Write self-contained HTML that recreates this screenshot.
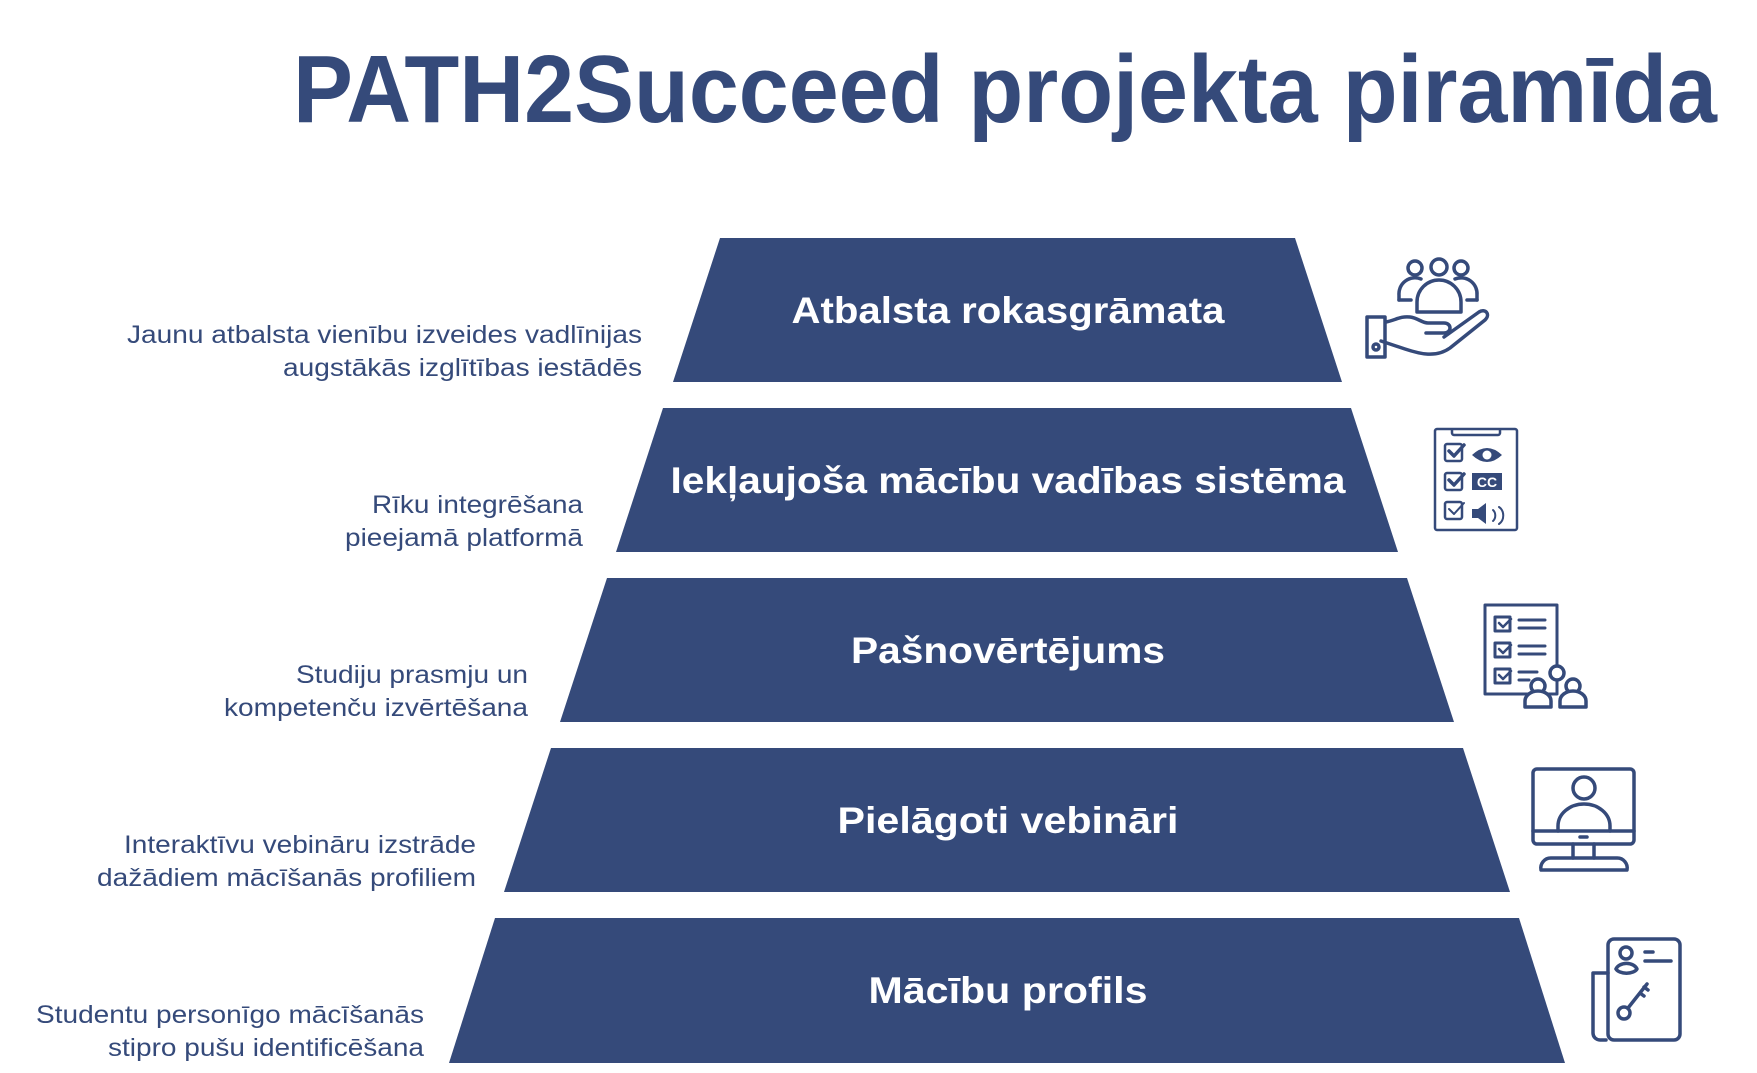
<!DOCTYPE html>
<html><head><meta charset="utf-8"><style>html,body{margin:0;padding:0;background:#fff;}svg{display:block}</style></head>
<body>
<svg width="1757" height="1073" viewBox="0 0 1757 1073" xmlns="http://www.w3.org/2000/svg">
<rect width="1757" height="1073" fill="#fff"/>
<text x="293" y="122" font-family="Liberation Sans, sans-serif" font-weight="bold" font-size="96" fill="#354a7a" textLength="1424" lengthAdjust="spacingAndGlyphs">PATH2Succeed projekta piramīda</text>
<g fill="#354a7a">
<polygon points="720,238 1295,238 1342,382 673,382"/>
<polygon points="663,408 1351,408 1398,552 616,552"/>
<polygon points="607,578 1407,578 1454,722 560,722"/>
<polygon points="551,748 1463,748 1510,892 504,892"/>
<polygon points="495,918 1519,918 1565,1063 449,1063"/>
</g>
<g font-family="Liberation Sans, sans-serif" font-weight="bold" font-size="37" fill="#fff" text-anchor="middle">
<text x="1008" y="323" textLength="433" lengthAdjust="spacingAndGlyphs">Atbalsta rokasgrāmata</text>
<text x="1008" y="493" textLength="675" lengthAdjust="spacingAndGlyphs">Iekļaujoša mācību vadības sistēma</text>
<text x="1008" y="663" textLength="314" lengthAdjust="spacingAndGlyphs">Pašnovērtējums</text>
<text x="1008" y="833" textLength="341" lengthAdjust="spacingAndGlyphs">Pielāgoti vebināri</text>
<text x="1008" y="1003" textLength="279" lengthAdjust="spacingAndGlyphs">Mācību profils</text>
</g>
<g font-family="Liberation Sans, sans-serif" font-size="25" fill="#354a7a" text-anchor="end">
<text x="642" y="343" textLength="515" lengthAdjust="spacingAndGlyphs">Jaunu atbalsta vienību izveides vadlīnijas</text>
<text x="642" y="376" textLength="359" lengthAdjust="spacingAndGlyphs">augstākās izglītības iestādēs</text>
<text x="583" y="513" textLength="211" lengthAdjust="spacingAndGlyphs">Rīku integrēšana</text>
<text x="583" y="546" textLength="238" lengthAdjust="spacingAndGlyphs">pieejamā platformā</text>
<text x="528" y="683" textLength="232" lengthAdjust="spacingAndGlyphs">Studiju prasmju un</text>
<text x="528" y="716" textLength="304" lengthAdjust="spacingAndGlyphs">kompetenču izvērtēšana</text>
<text x="476" y="853" textLength="352" lengthAdjust="spacingAndGlyphs">Interaktīvu vebināru izstrāde</text>
<text x="476" y="886" textLength="379" lengthAdjust="spacingAndGlyphs">dažādiem mācīšanās profiliem</text>
<text x="424" y="1023" textLength="388" lengthAdjust="spacingAndGlyphs">Studentu personīgo mācīšanās</text>
<text x="424" y="1056" textLength="316" lengthAdjust="spacingAndGlyphs">stipro pušu identificēšana</text>
</g>
<g fill="none" stroke="#354a7a" stroke-width="3.5" stroke-linecap="round" stroke-linejoin="round">
<circle cx="1415" cy="268" r="7"/><circle cx="1439" cy="267" r="8"/><circle cx="1461" cy="268" r="7"/>
<path d="M1399,300 v-5 a16,16 0 0 1 22,-16"/><path d="M1477,300 v-5 a16,16 0 0 0 -22,-16"/>
<path d="M1399,300 h12"/><path d="M1467,300 h10"/>
<path d="M1417,312 v-10 a22,22 0 0 1 44,0 v10 z"/>
<rect x="1367" y="317" width="18" height="40"/><circle cx="1376" cy="347" r="3"/>
<path d="M1386,322 c10,-2 14,-6 24,-5 c8,1 12,6 18,6 h16 c8,0 8,10 0,10 h-18 M1444,337 l35,-25 c6,-4 12,2 6,8 l-35,28 c-14,10 -30,6 -45,1 l-24,-8"/>
<rect x="1435" y="429" width="82" height="101" rx="2" stroke-width="2.5"/>
<path d="M1452,430 v3 a2,2 0 0 0 2,2 h44 a2,2 0 0 0 2,-2 v-3" stroke-width="2.5"/>
<rect x="1445" y="444" width="17" height="17" rx="2" stroke-width="2.5"/>
<rect x="1445" y="473" width="17" height="17" rx="2" stroke-width="2.5"/>
<rect x="1445" y="502" width="17" height="17" rx="2" stroke-width="2.5"/>
<path d="M1449,451 l5,5 l10,-11"/><path d="M1449,480 l5,5 l10,-11"/><path d="M1449,509 l5,5 l10,-11" stroke-width="2"/>
<path d="M1493,510 a6,7 0 0 1 0,11" stroke-width="2"/><path d="M1499,507 a9,10 0 0 1 0,17" stroke-width="2"/>
<rect x="1485" y="605" width="72" height="89" stroke-width="3"/>
<rect x="1495" y="617" width="15" height="14" stroke-width="3"/><rect x="1495" y="643" width="15" height="14" stroke-width="3"/><rect x="1495" y="669" width="15" height="14" stroke-width="3"/>
<path d="M1499,623 l4,4 l8,-8 M1499,649 l4,4 l8,-8 M1499,675 l4,4 l8,-8" stroke-width="2.5"/>
<path d="M1519,620 h26 M1519,628 h26 M1519,646 h26 M1519,654 h26 M1519,672 h18 M1519,680 h10" stroke-width="3"/>
<circle cx="1557" cy="673" r="7" fill="#fff"/>
<circle cx="1538" cy="686" r="7" fill="#fff"/><circle cx="1573" cy="686" r="7" fill="#fff"/>
<path d="M1525,707 v-6 a13,10 0 0 1 26,0 v6 z" fill="#fff"/><path d="M1560,707 v-6 a13,10 0 0 1 26,0 v6 z" fill="#fff"/>
<rect x="1533" y="769" width="101" height="75" rx="4"/>
<path d="M1533,831 h101"/><path d="M1580,837 h7"/>
<circle cx="1584" cy="788" r="11"/><path d="M1558,831 v-5 a26,22 0 0 1 52,0 v5"/>
<path d="M1573,844 v14 M1594,844 v14"/>
<path d="M1541,870 a10,10 0 0 1 10,-12 h66 a10,10 0 0 1 10,12 z"/>
<path d="M1606,1040 h-6 a7,7 0 0 1 -7,-7 v-60 h15"/>
<rect x="1608" y="939" width="72" height="101" rx="6"/>
<circle cx="1626" cy="953" r="6"/><path d="M1616,969 a11,8 0 0 1 21,0 a11,6 0 0 1 -21,0"/>
<path d="M1645,952 h8 M1645,961 h26"/>
<circle cx="1624" cy="1013" r="6"/><path d="M1628,1008 l19,-24 M1640,993 l4,3 M1644,987 l4,3"/>
</g>
<g fill="#354a7a">
<path d="M1472,455 q15,-14 30,0 q-15,14 -30,0 z"/><circle cx="1487" cy="455" r="4.5" fill="#fff"/>
<rect x="1472" y="473" width="30" height="17"/>
<text x="1487" y="487" font-family="Liberation Sans, sans-serif" font-weight="bold" font-size="14" fill="#fff" text-anchor="middle">CC</text>
<path d="M1472,509 h6 l8,-6 v21 l-8,-6 h-6 z"/>
</g>
</svg>
</body></html>
